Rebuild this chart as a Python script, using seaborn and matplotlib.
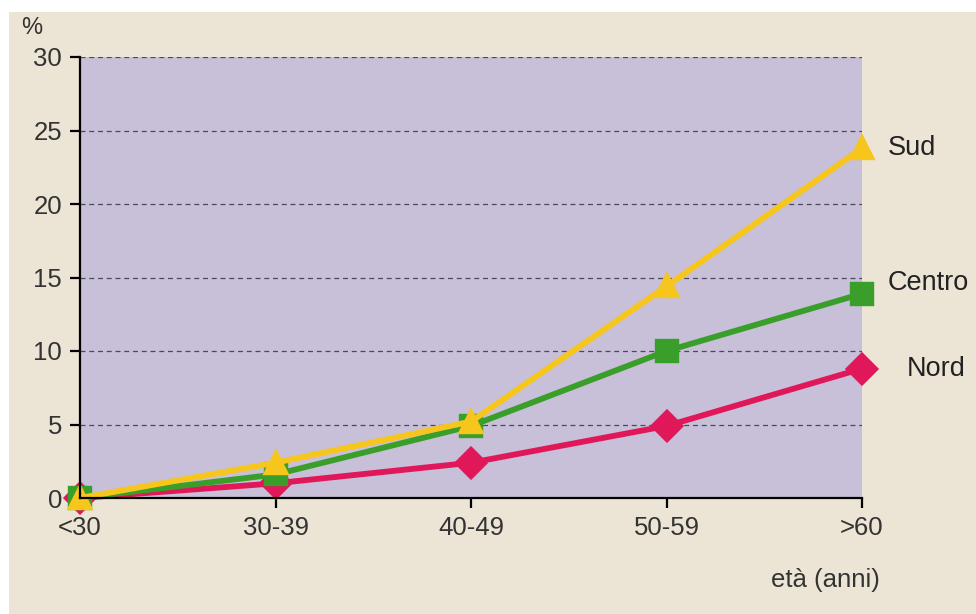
import pandas as pd
import seaborn as sns
import matplotlib.pyplot as plt
from matplotlib.patches import Rectangle

# data
age_groups = ["<30", "30-39", "40-49", "50-59", ">60"]
nord = [0.0, 1.0, 2.4, 4.9, 8.8]
centro = [0.0, 1.6, 4.9, 10.0, 13.9]
sud = [0.0, 2.4, 5.2, 14.4, 23.8]
regions = ["Nord", "Centro", "Sud"]

df = pd.DataFrame({
    "eta": age_groups * 3,
    "valore": nord + centro + sud,
    "area": ["Nord"] * 5 + ["Centro"] * 5 + ["Sud"] * 5,
})

colors = {"Nord": "#e0185a", "Centro": "#3a9f2a", "Sud": "#f6c61c"}

sns.set_style("white")
plt.rcParams["font.family"] = ["Liberation Sans", "DejaVu Sans"]

fig = plt.figure(figsize=(9.76, 6.14), dpi=100, facecolor="white")
fig.patches.append(Rectangle((9 / 976, 0), 1, 1 - 12 / 614, transform=fig.transFigure,
                             facecolor="#ece5d5", edgecolor="none", zorder=-10))
ax = fig.add_axes([80 / 976, 1 - 498 / 614, 782 / 976, 441 / 614])
ax.set_facecolor("#c8bfd8")

sns.pointplot(
    data=df, x="eta", y="valore", hue="area",
    order=age_groups, hue_order=regions,
    palette=colors, markers=["D", "s", "^"],
    markersize=14, linewidth=4.2, errorbar=None, ax=ax,
)
ax.legend_.remove()
for ln in ax.lines:
    ln.set_clip_on(False)

ax.set_xlim(0, 4)
ax.set_ylim(0, 30)
ax.set_yticks(range(0, 31, 5))
ax.yaxis.grid(True, linestyle=(0, (4, 3)), color="#4a4a5a", linewidth=0.9)
ax.set_axisbelow(True)
for s in ["top", "right"]:
    ax.spines[s].set_visible(False)
for s in ["left", "bottom"]:
    ax.spines[s].set_color("black")
    ax.spines[s].set_linewidth(1.6)
ax.tick_params(axis="both", which="both", direction="out", length=7, width=1.6,
               colors="black", labelsize=18.5, labelcolor="#333333", left=True, bottom=True)
ax.tick_params(axis="x", pad=6)
ax.tick_params(axis="y", pad=6)
ax.set_xlabel("")
ax.set_ylabel("")

# labels
ax.text(-0.075, 1.04, "%", transform=ax.transAxes, fontsize=17, color="#333333",
        ha="left", va="bottom")
ax.text(1.023, -0.185, "età (anni)", transform=ax.transAxes, fontsize=18.5, color="#333333",
        ha="right", va="center")
ax.text(4.13, 23.8, "Sud", fontsize=19.5, color="#222222", va="center", clip_on=False)
ax.text(4.13, 14.6, "Centro", fontsize=19.5, color="#222222", va="center", clip_on=False)
ax.text(4.23, 8.8, "Nord", fontsize=19.5, color="#222222", va="center", clip_on=False)

plt.savefig("out.png", dpi=100, facecolor=fig.get_facecolor())
